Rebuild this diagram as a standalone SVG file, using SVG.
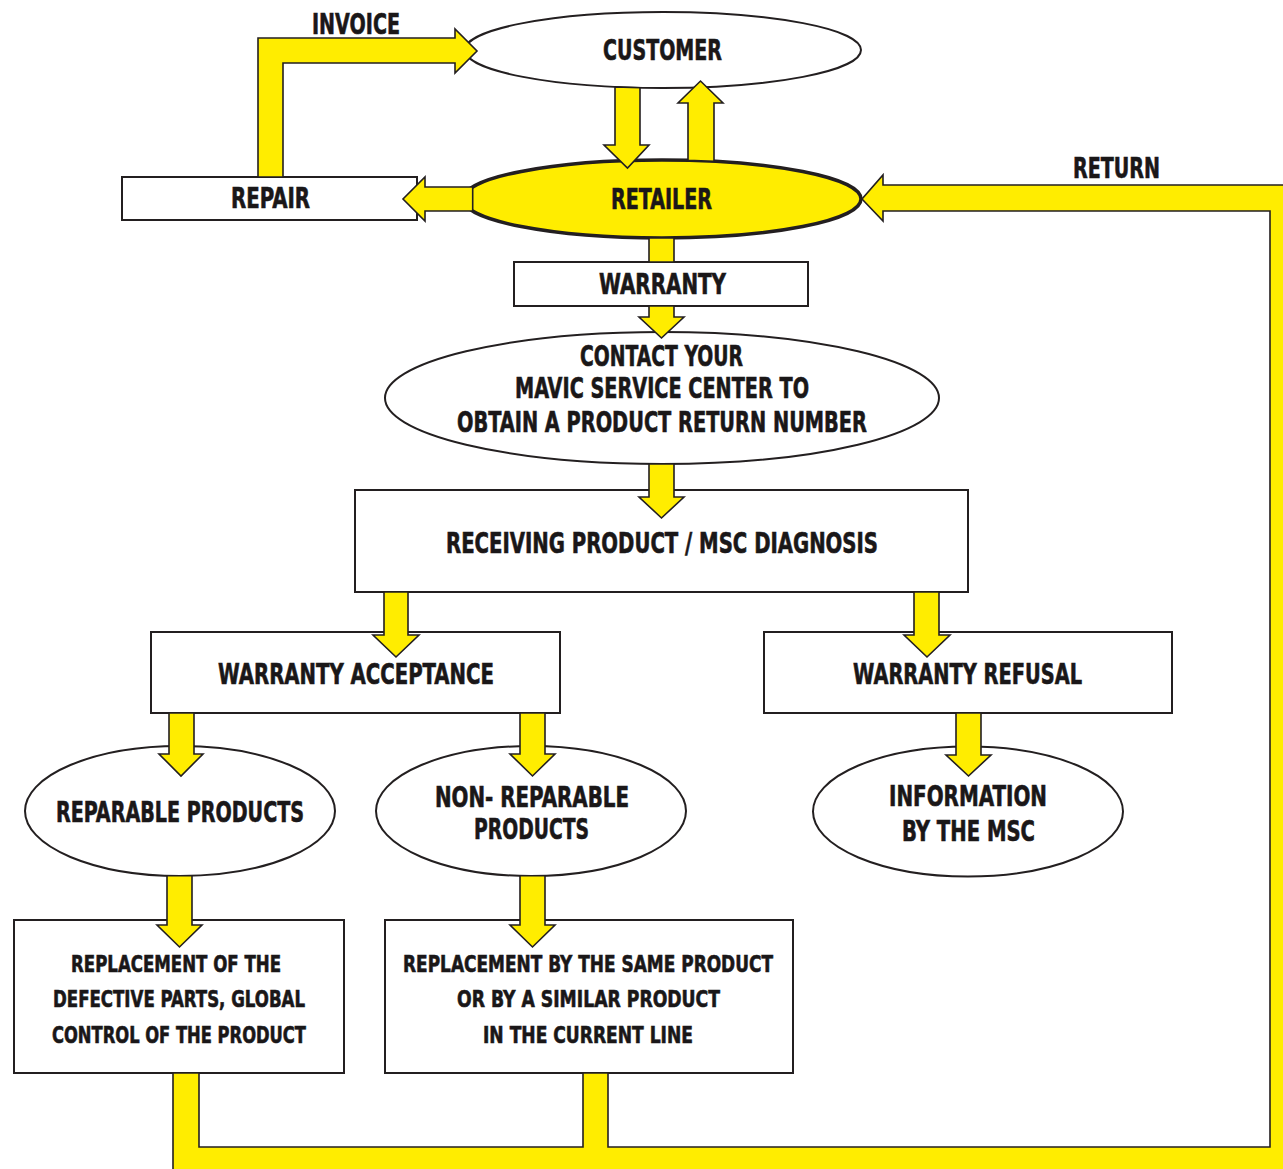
<svg xmlns="http://www.w3.org/2000/svg" width="1283" height="1169" viewBox="0 0 1283 1169">
<style>
.box{fill:#fff;stroke:#231f20;stroke-width:2}
.ell{fill:#fff;stroke:#231f20;stroke-width:2}
.ret{fill:#ffed00;stroke:#231f20;stroke-width:3.5}
.arr{fill:#ffed00;stroke:#231f20;stroke-width:1.6;stroke-linejoin:miter}
.t{font-family:"DejaVu Sans Condensed","DejaVu Sans","Liberation Sans",sans-serif;font-stretch:condensed;font-weight:bold;font-size:28px;fill:#1a1718;stroke:#1a1718;stroke-width:0.6;text-anchor:middle}
.s{font-size:23px}
</style>
<rect width="1283" height="1169" fill="#fff"/>
<g id="nodes">
<g id="customer"><ellipse class="ell" cx="663" cy="50" rx="198" ry="38"/><text class="t" x="662.5" y="60" textLength="119" lengthAdjust="spacingAndGlyphs">CUSTOMER</text></g>
<g id="repair"><rect class="box" x="122" y="177" width="295" height="43"/><text class="t" x="270.5" y="208" textLength="79" lengthAdjust="spacingAndGlyphs">REPAIR</text></g>
<g id="retailer"><ellipse class="ret" cx="662" cy="199" rx="199" ry="39"/><text class="t" x="661.5" y="209" textLength="101" lengthAdjust="spacingAndGlyphs">RETAILER</text></g>
<g id="warranty"><rect class="box" x="514" y="262" width="294" height="44"/><text class="t" x="662.5" y="294" textLength="127" lengthAdjust="spacingAndGlyphs">WARRANTY</text></g>
<g id="contact"><ellipse class="ell" cx="662" cy="398" rx="277" ry="66"/>
<text class="t" x="661.5" y="366" textLength="163" lengthAdjust="spacingAndGlyphs">CONTACT YOUR</text>
<text class="t" x="662" y="398" textLength="294" lengthAdjust="spacingAndGlyphs">MAVIC SERVICE CENTER TO</text>
<text class="t" x="662" y="432" textLength="410" lengthAdjust="spacingAndGlyphs">OBTAIN A PRODUCT RETURN NUMBER</text></g>
<g id="receiving"><rect class="box" x="355" y="490" width="613" height="102"/><text class="t" x="662" y="553" textLength="432" lengthAdjust="spacingAndGlyphs">RECEIVING PRODUCT / MSC DIAGNOSIS</text></g>
<g id="acceptance"><rect class="box" x="151" y="632" width="409" height="81"/><text class="t" x="356" y="684" textLength="276" lengthAdjust="spacingAndGlyphs">WARRANTY ACCEPTANCE</text></g>
<g id="refusal"><rect class="box" x="764" y="632" width="408" height="81"/><text class="t" x="967.5" y="684" textLength="229" lengthAdjust="spacingAndGlyphs">WARRANTY REFUSAL</text></g>
<g id="reparable"><ellipse class="ell" cx="180" cy="811" rx="155" ry="65"/><text class="t" x="180" y="822" textLength="248" lengthAdjust="spacingAndGlyphs">REPARABLE PRODUCTS</text></g>
<g id="nonreparable"><ellipse class="ell" cx="531" cy="811" rx="155" ry="65"/>
<text class="t" x="532" y="807" textLength="194" lengthAdjust="spacingAndGlyphs">NON- REPARABLE</text>
<text class="t" x="531.5" y="839" textLength="115" lengthAdjust="spacingAndGlyphs">PRODUCTS</text></g>
<g id="information"><ellipse class="ell" cx="968" cy="811.5" rx="155" ry="65"/>
<text class="t" x="968" y="806" textLength="158" lengthAdjust="spacingAndGlyphs">INFORMATION</text>
<text class="t" x="968.5" y="841" textLength="133" lengthAdjust="spacingAndGlyphs">BY THE MSC</text></g>
<g id="replacement-parts"><rect class="box" x="14" y="920" width="330" height="153"/>
<text class="t s" x="176" y="972" textLength="210" lengthAdjust="spacingAndGlyphs">REPLACEMENT OF THE</text>
<text class="t s" x="179" y="1007" textLength="252" lengthAdjust="spacingAndGlyphs">DEFECTIVE PARTS, GLOBAL</text>
<text class="t s" x="179" y="1043" textLength="254" lengthAdjust="spacingAndGlyphs">CONTROL OF THE PRODUCT</text></g>
<g id="replacement-product"><rect class="box" x="385" y="920" width="408" height="153"/>
<text class="t s" x="588" y="972" textLength="370" lengthAdjust="spacingAndGlyphs">REPLACEMENT BY THE SAME PRODUCT</text>
<text class="t s" x="588.5" y="1007" textLength="263" lengthAdjust="spacingAndGlyphs">OR BY A SIMILAR PRODUCT</text>
<text class="t s" x="588" y="1043" textLength="210" lengthAdjust="spacingAndGlyphs">IN THE CURRENT LINE</text></g>
</g>
<g id="connectors">
<polygon class="arr" points="258,177 258,38 455,38 455,29 477,51 455,73 455,63 283,63 283,177"/>
<polygon class="arr" points="615,86.9 640,87.7 640,145 649,145 627.5,168 604,145 615,145"/>
<polygon class="arr" points="688,160.3 688,103 678,103 700.5,81 723,103 714,103 714,161.4"/>
<polygon class="arr" points="472.7,187 425,187 425,177 403,199 425,221 425,211 472.7,211"/>
<polygon class="arr" points="649,237.9 674,237.9 674,262 649,262"/>
<polygon class="arr" points="649,306 674,306 674,317 684,317 661.5,338 639,317 649,317"/>
<polygon class="arr" points="649,463.9 674,463.9 674,497 684,497 661.5,518 639,497 649,497"/>
<polygon class="arr" points="384,592 408,592 408,635 419,635 396,657 373,635 384,635"/>
<polygon class="arr" points="914,592 939,592 939,635 950,635 927,657 904,635 914,635"/>
<polygon class="arr" points="169,713 194,713 194,754 203,754 181,776 159,754 169,754"/>
<polygon class="arr" points="520,713 545,713 545,754 555,754 532.5,776 510,754 520,754"/>
<polygon class="arr" points="956,713 981,713 981,755 991,755 968.5,776 946,755 956,755"/>
<polygon class="arr" points="167,875.7 192,875.7 192,925 202,925 179.5,947 157,925 167,925"/>
<polygon class="arr" points="520,875.7 545,875.7 545,925 555,925 532.5,947 510,925 520,925"/>
<polygon class="arr" points="173,1073 173,1190 1300,1190 1300,185 883,185 883,175 862,199 883,221 883,211 1270,211 1270,1147 608,1147 608,1073 583,1073 583,1147 199,1147 199,1073"/>
</g>
<g id="labels">
<text class="t" x="356" y="34" textLength="88" lengthAdjust="spacingAndGlyphs">INVOICE</text>
<text class="t" x="1116.5" y="178" textLength="87" lengthAdjust="spacingAndGlyphs">RETURN</text>
</g>
</svg>
